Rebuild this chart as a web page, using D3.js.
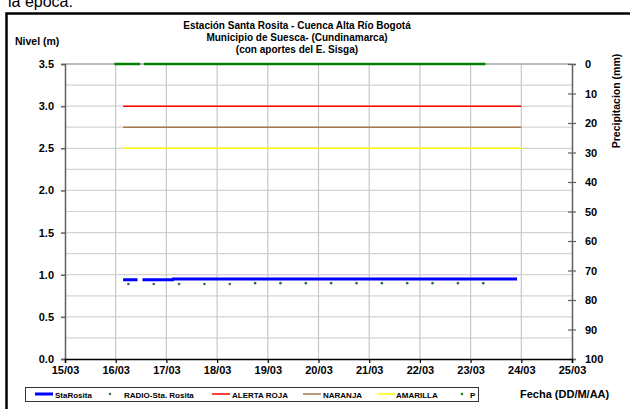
<!DOCTYPE html>
<html>
<head>
<meta charset="utf-8">
<script src="https://cdn.jsdelivr.net/npm/d3@7"></script>
<style>
  body { margin: 0; background: #fff; }
  svg { display: block; font-family: "Liberation Sans", Arial, sans-serif; }
</style>
</head>
<body>
<div id="chart"></div>
<script>
// ---- data ----
const titleLines = ["Estación Santa Rosita - Cuenca Alta Río Bogotá", "Municipio de Suesca- (Cundinamarca)", "(con aportes del  E. Sisga)"];
const dayTicks = ["15/03", "16/03", "17/03", "18/03", "19/03", "20/03", "21/03", "22/03", "23/03", "24/03", "25/03"];
const nivelTicks = [0, 0.5, 1.0, 1.5, 2.0, 2.5, 3.0, 3.5];
const precTicks = [0, 10, 20, 30, 40, 50, 60, 70, 80, 90, 100];

// StaRosita (level, m) - null marks the gap
const staTimes = ["16/03 03:30", "16/03 10:20", "16/03 11:00", "16/03 12:40", "17/03 03:00", "17/03 03:10", "23/03 22:00"];
const staValues = [0.94, 0.94, null, 0.94, 0.94, 0.95, 0.95];

// RADIO-Sta. Rosita readings
const radioTimes = ["16/03 06:00", "16/03 18:00", "17/03 06:00", "17/03 18:00", "18/03 06:00", "18/03 18:00", "19/03 06:00", "19/03 18:00",
  "20/03 06:00", "20/03 18:00", "21/03 06:00", "21/03 18:00", "22/03 06:00", "22/03 18:00", "23/03 06:00"];
const radioValues = [0.89, 0.89, 0.89, 0.89, 0.89, 0.90, 0.90, 0.90, 0.90, 0.90, 0.90, 0.90, 0.90, 0.90, 0.90];

// alert thresholds
const alertNames = ["ALERTA ROJA", "NARANJA", "AMARILLA"];
const alertValues = [3.0, 2.75, 2.5];
const alertStart = "16/03 03:30";
const alertEnd = "24/03 00:00";

// P (precipitation, mm) - all readings zero
const pStarts = ["15/03 23:20", "16/03 13:20"];
const pEnds = ["16/03 11:30", "23/03 07:00"];
const pValue = 0;

const W = 630, H = 409;
const margin = { left: 65, right: 58, top: 64, bottom: 50 };
const parse = d3.timeParse("%d/%m %H:%M");
const parseDay = d3.timeParse("%d/%m");

const svg = d3.select("#chart").append("svg")
  .attr("width", W).attr("height", H);

// page text above and frame
svg.append("text").attr("x", 8).attr("y", 7)
  .style("font-size", "16px").text("la época.");
svg.append("path").attr("d", `M6.5,${H} V13.5 H${W}`)
  .attr("fill", "none").attr("stroke", "#000").attr("stroke-width", 2.5);

const x = d3.scaleTime()
  .domain([parseDay("15/03"), parseDay("25/03")])
  .range([margin.left, W - margin.right]);
const y = d3.scaleLinear().domain([0, 3.5]).range([H - margin.bottom, margin.top]);
const y2 = d3.scaleLinear().domain([0, 100]).range([margin.top, H - margin.bottom]);

const x0 = x.range()[0], x1 = x.range()[1];
const yb = y.range()[0], yt = y.range()[1];

// gridlines
const hGrid = d3.range(0.25, 3.5, 0.25);
svg.append("g").selectAll("line").data(hGrid).join("line")
  .attr("x1", x0).attr("x2", x1)
  .attr("y1", d => y(d)).attr("y2", d => y(d))
  .attr("stroke", "#d4d4d4").attr("stroke-width", 1.2);
svg.append("g").selectAll("line").data(dayTicks.slice(1, -1)).join("line")
  .attr("x1", d => x(parseDay(d))).attr("x2", d => x(parseDay(d)))
  .attr("y1", yt).attr("y2", yb)
  .attr("stroke", "#c8c8c8").attr("stroke-width", 1.2);
svg.append("line").attr("x1", x0).attr("x2", x1).attr("y1", yt).attr("y2", yt)
  .attr("stroke", "#a6a6a6").attr("stroke-width", 1.5);

// axes
const axisStyle = g => {
  g.selectAll("text").style("font-size", "11px").style("font-weight", "bold").attr("fill", "#000");
};
svg.append("g").attr("transform", `translate(${x0},0)`)
  .call(d3.axisLeft(y).tickValues(nivelTicks).tickFormat(d3.format(".1f")).tickSize(4).tickPadding(7))
  .call(g => g.select(".domain").attr("stroke", "#606060").attr("stroke-width", 1.5))
  .call(g => g.selectAll(".tick line").attr("stroke", "#606060").attr("stroke-width", 1.5))
  .call(axisStyle);

svg.append("g").attr("transform", `translate(${x1},0)`)
  .call(d3.axisRight(y2).tickValues(precTicks).tickSize(4).tickPadding(9))
  .call(g => g.select(".domain").attr("stroke", "#606060").attr("stroke-width", 1.5))
  .call(g => g.selectAll(".tick line").attr("x1", -4).attr("stroke", "#606060").attr("stroke-width", 1.2))
  .call(axisStyle);

svg.append("g").attr("transform", `translate(0,${yb})`)
  .call(d3.axisBottom(x).tickValues(dayTicks.map(parseDay)).tickFormat(d3.timeFormat("%d/%m")).tickSize(4).tickPadding(3))
  .call(g => g.select(".domain").attr("stroke", "#000").attr("stroke-width", 1.5))
  .call(g => g.selectAll(".tick line").attr("stroke", "#000").attr("stroke-width", 1.2))
  .call(axisStyle);

// alert lines
const alertColors = ["#ff0000", "#a57850", "#ffff00"];
svg.append("g").selectAll("line").data(alertValues).join("line")
  .attr("x1", x(parse(alertStart))).attr("x2", x(parse(alertEnd)))
  .attr("y1", d => y(d)).attr("y2", d => y(d))
  .attr("stroke", (d, i) => alertColors[i]).attr("stroke-width", 1.5);

// P series
svg.append("g").selectAll("line").data(pStarts).join("line")
  .attr("x1", d => x(parse(d))).attr("x2", (d, i) => x(parse(pEnds[i])))
  .attr("y1", y2(pValue)).attr("y2", y2(pValue))
  .attr("stroke", "#008000").attr("stroke-width", 2.5);

// StaRosita
const staData = staTimes.map((t, i) => ({ t: parse(t), v: staValues[i] }));
svg.append("path").datum(staData)
  .attr("d", d3.line().defined(d => d.v !== null).x(d => x(d.t)).y(d => y(d.v)))
  .attr("fill", "none").attr("stroke", "#0000ff").attr("stroke-width", 3);

// RADIO dots
svg.append("g").selectAll("circle").data(radioTimes).join("circle")
  .attr("cx", d => x(parse(d))).attr("cy", (d, i) => y(radioValues[i]))
  .attr("r", 1.3).attr("fill", "#336666");

// titles
svg.append("g").selectAll("text").data(titleLines).join("text")
  .attr("x", 297).attr("y", (d, i) => 29 + i * 12)
  .attr("text-anchor", "middle")
  .style("font-size", "10px").style("font-weight", "bold")
  .text(d => d);

svg.append("text").attr("x", 15).attr("y", 45)
  .style("font-size", "10.5px").style("font-weight", "bold").text("Nivel (m)");

svg.append("text").attr("transform", "translate(620,101) rotate(-90)")
  .attr("text-anchor", "middle")
  .style("font-size", "10.5px").style("font-weight", "bold").text("Precipitacion (mm)");

svg.append("text").attr("x", 520).attr("y", 398)
  .style("font-size", "11px").style("font-weight", "bold").text("Fecha (DD/M/AA)");

// legend
const lg = svg.append("g");
lg.append("rect").attr("x", 25.5).attr("y", 387.5).attr("width", 453).attr("height", 14)
  .attr("fill", "#fff").attr("stroke", "#333").attr("stroke-width", 1);
const legendItems = [
  { name: "StaRosita", type: "line", color: "#0000ff", w: 3, x: 35, tx: 55 },
  { name: "RADIO-Sta. Rosita", type: "dot", color: "#336666", x: 110, tx: 124 },
  { name: alertNames[0], type: "line", color: alertColors[0], w: 1.5, x: 212, tx: 232 },
  { name: alertNames[1], type: "line", color: alertColors[1], w: 1.5, x: 303, tx: 323 },
  { name: alertNames[2], type: "line", color: alertColors[2], w: 1.5, x: 377, tx: 396 },
  { name: "P", type: "dot", color: "#008000", x: 462, tx: 470 }
];
legendItems.forEach(it => {
  if (it.type === "line") {
    lg.append("line").attr("x1", it.x).attr("x2", it.x + 18).attr("y1", 394).attr("y2", 394)
      .attr("stroke", it.color).attr("stroke-width", it.w);
  } else {
    lg.append("circle").attr("cx", it.x).attr("cy", 394).attr("r", 1.2).attr("fill", it.color);
  }
  lg.append("text").attr("x", it.tx).attr("y", 397.5)
    .style("font-size", "8px").style("font-weight", "bold").text(it.name);
});
</script>
</body>
</html>
